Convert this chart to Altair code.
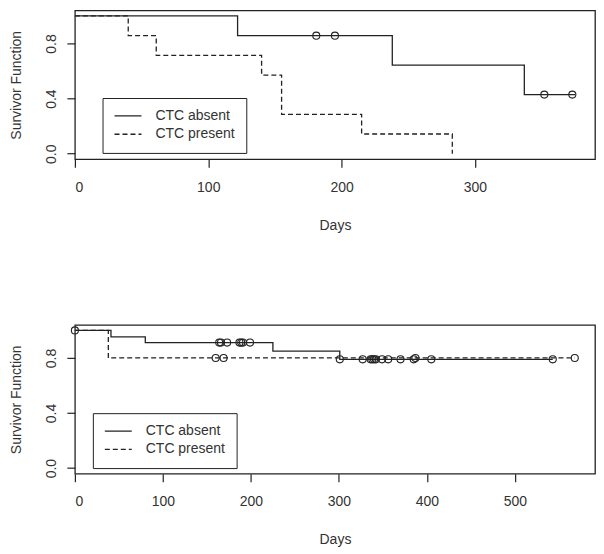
import altair as alt
import pandas as pd

FONT = "Liberation Sans"
INK = "#222222"
TXT = "#333333"

groups = ["CTC absent", "CTC present"]

# ---------- Panel 1 (top) ----------
p1_absent_t = [0, 122, 238, 337, 375]
p1_absent_s = [1.0, 0.857, 0.643, 0.429, 0.429]
p1_present_t = [0, 40, 61, 140, 155, 215, 283]
p1_present_s = [1.0, 0.857, 0.714, 0.571, 0.286, 0.143, 0.0]
p1_cens_t = [181, 195, 352, 373]
p1_cens_s = [0.857, 0.857, 0.429, 0.429]
p1_xticks = [0, 100, 200, 300]

# ---------- Panel 2 (bottom) ----------
p2_absent_t = [0, 41, 80, 225, 301, 543]
p2_absent_s = [1.0, 0.953, 0.912, 0.85, 0.79, 0.79]
p2_present_t = [0, 38, 568]
p2_present_s = [1.0, 0.8, 0.8]
p2_cens_t = [0, 164, 166, 173, 187, 189, 191, 199, 160, 169,
             301, 327, 336, 338, 340, 342, 349, 356, 370, 385, 387, 405, 543, 568]
p2_cens_s = [1.0, 0.912, 0.912, 0.912, 0.912, 0.912, 0.912, 0.912, 0.8, 0.8,
             0.79, 0.79, 0.79, 0.79, 0.79, 0.79, 0.79, 0.79, 0.79, 0.79, 0.8, 0.79, 0.79, 0.8]
p2_xticks = [0, 100, 200, 300, 400, 500]

y_ticks = [0.0, 0.2, 0.4, 0.6, 0.8, 1.0]


def lines_df(at, as_, pt, ps):
    rows = [{"t": t, "s": s, "group": groups[0]} for t, s in zip(at, as_)]
    rows += [{"t": t, "s": s, "group": groups[1]} for t, s in zip(pt, ps)]
    return pd.DataFrame(rows)


def panel(ldf, cdf, xmax, xticks, lx, ly):
    xenc = alt.X("t:Q", scale=alt.Scale(domain=[0, xmax], nice=False, zero=False),
                 axis=alt.Axis(values=xticks, title="Days", labelPadding=13,
                               titleY=70, titleBaseline="alphabetic"))
    yenc = alt.Y("s:Q", scale=alt.Scale(domain=[-0.04, 1.04], nice=False, zero=False),
                 axis=alt.Axis(values=y_ticks, title="Survivor Function",
                               labelAngle=270, labelAlign="center", labelBaseline="alphabetic",
                               labelPadding=11,
                               labelExpr="datum.value < 0.05 ? '0.0' : abs(datum.value-0.4) < 0.05 ? '0.4' : abs(datum.value-0.8) < 0.05 ? '0.8' : ''",
                               titleX=-54.5, titleBaseline="alphabetic"))
    line = alt.Chart(ldf).mark_line(interpolate="step-after", color=INK, strokeWidth=1.3).encode(
        x=xenc, y=yenc,
        strokeDash=alt.StrokeDash(
            "group:N",
            scale=alt.Scale(domain=groups, range=[[1, 0], [5, 3]]),
            legend=alt.Legend(title=None, orient="none", legendX=lx, legendY=ly,
                              symbolType="stroke", symbolSize=729, symbolStrokeWidth=1.3,
                              symbolStrokeColor=INK, clipHeight=14, rowPadding=4.3,
                              padding=11, strokeColor=INK, fillColor="white",
                              labelFont=FONT, labelFontSize=14, labelColor=TXT,
                              labelOffset=13, cornerRadius=0),
        ),
    )
    pts = alt.Chart(cdf).mark_point(shape="circle", filled=False, size=50, color=INK,
                                     strokeWidth=1.1, opacity=1).encode(
        x=alt.X("t:Q"), y=alt.Y("s:Q"))
    return alt.layer(line, pts).properties(width=521, height=149)


top = panel(lines_df(p1_absent_t, p1_absent_s, p1_present_t, p1_present_s),
            pd.DataFrame({"t": p1_cens_t, "s": p1_cens_s}),
            390, p1_xticks, 27.7, 87.7)
bottom = panel(lines_df(p2_absent_t, p2_absent_s, p2_present_t, p2_present_s),
               pd.DataFrame({"t": p2_cens_t, "s": p2_cens_s}),
               591, p2_xticks, 18, 88.4)

chart = alt.vconcat(top, bottom, spacing=166, bounds="flush").resolve_scale(
    strokeDash="independent").resolve_legend(strokeDash="independent").properties(
    padding={"left": 0, "top": 1, "right": 0, "bottom": 0},
    background="white",
).configure_view(stroke=INK, strokeWidth=1.3).configure_axis(
    labelFont=FONT, titleFont=FONT, labelFontSize=14, titleFontSize=14,
    labelColor=TXT, titleColor=TXT, tickColor=INK, tickSize=8, tickWidth=1.2,
    domain=False, grid=False, titleFontWeight="normal",
)

chart.save("out.html", embed_options={"renderer": "svg", "actions": False})
